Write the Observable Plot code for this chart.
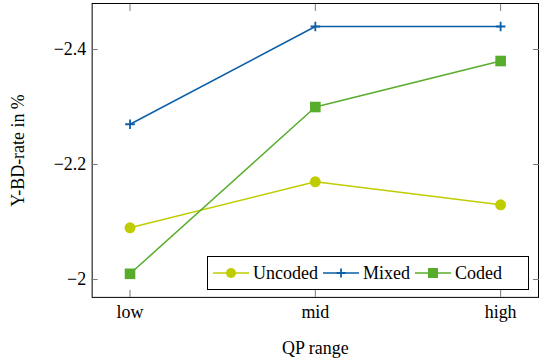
<!DOCTYPE html>
<html>
<head>
<meta charset="utf-8">
<script src="https://cdn.jsdelivr.net/npm/d3@7"></script>
<script src="https://cdn.jsdelivr.net/npm/@observablehq/plot@0.6"></script>
<style>
  html, body { margin: 0; padding: 0; overflow: hidden; background: #fff; }
  #wrap { position: relative; width: 539px; height: 360px; overflow: hidden; }
  #chart svg, #chart svg text { font-family: "Liberation Serif", "Times New Roman", "DejaVu Serif", "Noto Serif", serif !important; }
  #legend {
    position: absolute; left: 207px; top: 256px; width: 320px; height: 32px;
    border: 1px solid #000; background: #fff; display: flex; align-items: center;
    font-family: "Liberation Serif", "Times New Roman", "DejaVu Serif", "Noto Serif", serif; font-size: 18px; color: #000;
  }
  #legend .item { display: flex; align-items: center; margin-left: 5px; }
  #legend .item span { margin-left: 4px; }
</style>
</head>
<body>
<div id="wrap"><div id="chart"></div><div id="legend"></div></div>
<script>
const categories = ["low", "mid", "high"];
const seriesNames = ["Uncoded", "Mixed", "Coded"];
const uncoded = [-2.09, -2.17, -2.13];
const mixed = [-2.27, -2.44, -2.44];
const coded = [-2.01, -2.30, -2.38];
const yTicks = [-2, -2.2, -2.4];
const colors = ["#bfcd00", "#0b5ea8", "#58ac2b"];
const symbols = ["circle", "plus", "square"];

const values = [uncoded, mixed, coded];
const data = [];
seriesNames.forEach((s, i) => categories.forEach((c, j) => data.push({series: s, qp: c, v: values[i][j]})));

const font = "'Liberation Serif', 'Times New Roman', 'DejaVu Serif', serif";
const fmt = d => d3.format("")(d);

const plot = Plot.plot({
  width: 541, height: 360,
  marginLeft: 92, marginRight: 1, marginTop: 3, marginBottom: 62,
  style: {fontFamily: font, fontSize: "18px", color: "#000", background: "#fff", overflow: "visible"},
  x: {type: "point", domain: categories, padding: 0.2},
  y: {domain: [-1.969, -2.48], ticks: yTicks},
  color: {domain: seriesNames, range: colors},
  marks: [
    Plot.frame({stroke: "#000", strokeWidth: 1}),
    Plot.axisY(yTicks, {anchor: "left", tickSize: 0, tickPadding: 6, tickFormat: fmt, fontSize: 18, label: null}),
    Plot.axisY(yTicks, {anchor: "left", tickSize: -6, text: null, stroke: "#777", label: null}),
    Plot.axisY(yTicks, {anchor: "right", tickSize: -6, text: null, stroke: "#777", label: null}),
    Plot.axisX(categories, {anchor: "bottom", tickSize: -7, text: null, stroke: "#777", label: null}),
    Plot.axisX(categories, {anchor: "top", tickSize: -7, text: null, stroke: "#777", label: null}),
    Plot.axisX(categories, {anchor: "bottom", tickSize: 0, tickPadding: 8, fontSize: 18, label: null}),
    Plot.text(["QP range"], {frameAnchor: "bottom", dy: 57, fontSize: 18}),
    Plot.text(["Y-BD-rate in %"], {frameAnchor: "left", textAnchor: "middle", dx: -74, rotate: -90, fontSize: 18}),
    ...seriesNames.map((s, i) => Plot.line(data.filter(d => d.series === s), {x: "qp", y: "v", stroke: colors[i], strokeWidth: 1.5})),
    Plot.dot(data.filter(d => d.series === "Uncoded"), {x: "qp", y: "v", fill: colors[0], r: 5.5, symbol: "circle"}),
    Plot.dot(data.filter(d => d.series === "Mixed"), {x: "qp", y: "v", stroke: colors[1], r: 3.2, strokeWidth: 1.8, symbol: "plus"}),
    Plot.dot(data.filter(d => d.series === "Coded"), {x: "qp", y: "v", fill: colors[2], r: 6, symbol: "square"})
  ]
});
document.getElementById("chart").appendChild(plot);

// legend
const legend = document.getElementById("legend");
seriesNames.forEach((s, i) => {
  const item = document.createElement("div");
  item.className = "item";
  let marker;
  if (symbols[i] === "circle") marker = `<circle cx="18" cy="8" r="5" fill="${colors[i]}"/>`;
  else if (symbols[i] === "plus") marker = `<path d="M13.5,8H22.5M18,3.5V12.5" stroke="${colors[i]}" stroke-width="1.8"/>`;
  else marker = `<rect x="13" y="3" width="10" height="10" fill="${colors[i]}"/>`;
  item.innerHTML = `<svg width="36" height="16"><line x1="0" y1="8" x2="36" y2="8" stroke="${colors[i]}" stroke-width="1.5"/>${marker}</svg><span>${s}</span>`;
  legend.appendChild(item);
});
</script>
</body>
</html>
